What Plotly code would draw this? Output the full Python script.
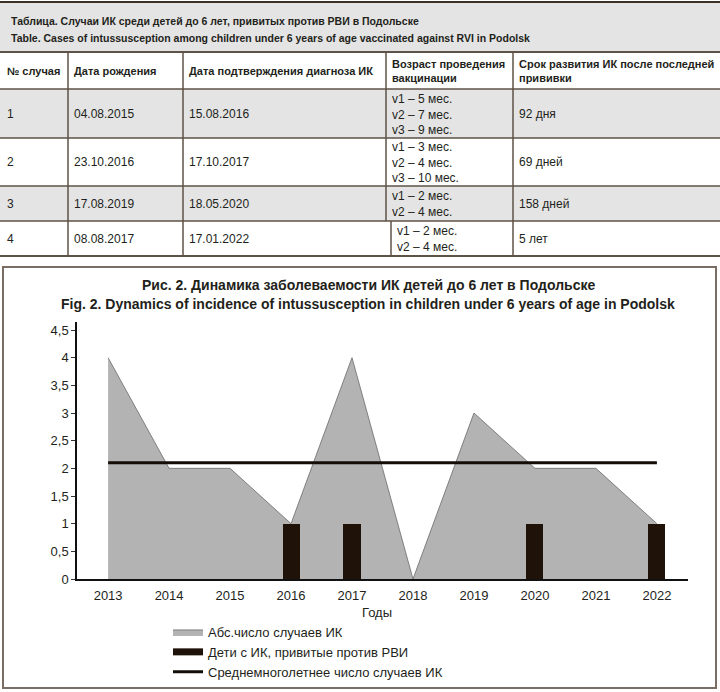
import plotly.graph_objects as go

# ---------------- data ----------------
table_title_ru = "Таблица. Случаи ИК среди детей до 6 лет, привитых против РВИ в Подольске"
table_title_en = "Table. Cases of intussusception among children under 6 years of age vaccinated against RVI in Podolsk"
col_headers = ["№ случая", "Дата рождения", "Дата подтверждения диагноза ИК",
               "Возраст проведения<br>вакцинации", "Срок развития ИК после последней<br>прививки"]
case_numbers = ["1", "2", "3", "4"]
birth_dates = ["04.08.2015", "23.10.2016", "17.08.2019", "08.08.2017"]
diagnosis_dates = ["15.08.2016", "17.10.2017", "18.05.2020", "17.01.2022"]
vaccination_ages = ["v1 – 5 мес.<br>v2 – 7 мес.<br>v3 – 9 мес.",
                    "v1 – 3 мес.<br>v2 – 4 мес.<br>v3 – 10 мес.",
                    "v1 – 2 мес.<br>v2 – 4 мес.",
                    "v1 – 2 мес.<br>v2 – 4 мес."]
onset_after_last = ["92 дня", "69 дней", "158 дней", "5 лет"]

chart_title_ru = "Рис. 2. Динамика заболеваемости ИК детей до 6 лет в Подольске"
chart_title_en = "Fig. 2. Dynamics of incidence of intussusception in children under 6 years of age in Podolsk"
years = [2013, 2014, 2015, 2016, 2017, 2018, 2019, 2020, 2021, 2022]
abs_cases = [4, 2, 2, 1, 4, 0, 3, 2, 2, 1]
vacc_years = [2016, 2017, 2020, 2022]
vacc_cases = [1, 1, 1, 1]
mean_years = [2013, 2022]
mean_cases = [2.1, 2.1]
y_ticks = [0, 0.5, 1, 1.5, 2, 2.5, 3, 3.5, 4, 4.5]
y_tick_labels = ["0", "0,5", "1", "1,5", "2", "2,5", "3", "3,5", "4", "4,5"]
x_title = "Годы"
legend_names = ["Абс.число случаев ИК", "Дети с ИК, привитые против РВИ", "Среднемноголетнее число случаев ИК"]

# ---------------- layout helpers ----------------
W, H = 720, 692
def px(x):
    return x / W
def py(y):
    return 1 - y / H

TXT = "#231f1a"
LINE = "#5e5246"
GREY_BG = "#e4e4e4"
SANS = "Liberation Sans, Arial, sans-serif"
BAR_COLOR = "#1f1208"

shapes = []
annotations = []

# title band
shapes.append(dict(type="rect", xref="paper", yref="paper", x0=px(0), x1=px(720), y0=py(3), y1=py(52),
                   fillcolor=GREY_BG, line=dict(width=0), layer="below"))
# grey rows
row_bounds = [52, 89, 138, 186, 221, 256]
for i in (1, 3):
    shapes.append(dict(type="rect", xref="paper", yref="paper", x0=px(0), x1=px(720),
                       y0=py(row_bounds[i]), y1=py(row_bounds[i + 1]),
                       fillcolor=GREY_BG, line=dict(width=0), layer="below"))
# horizontal lines
shapes.append(dict(type="line", xref="paper", yref="paper", x0=0, x1=1, y0=py(2), y1=py(2),
                   line=dict(color="#3a3028", width=2)))
for k, yb in enumerate(row_bounds):
    w = 2 if k in (0, len(row_bounds) - 1) else 1.5
    shapes.append(dict(type="line", xref="paper", yref="paper", x0=0, x1=1, y0=py(yb), y1=py(yb),
                       line=dict(color=LINE, width=w)))
# vertical lines
col_x = [68, 183, 386, 513]
for cx in col_x:
    if cx == 386:
        shapes.append(dict(type="line", xref="paper", yref="paper", x0=px(cx), x1=px(cx),
                           y0=py(52), y1=py(221), line=dict(color=LINE, width=1.5)))
        shapes.append(dict(type="line", xref="paper", yref="paper", x0=px(cx + 5), x1=px(cx + 5),
                           y0=py(221), y1=py(256), line=dict(color=LINE, width=1.5)))
    else:
        shapes.append(dict(type="line", xref="paper", yref="paper", x0=px(cx), x1=px(cx),
                           y0=py(52), y1=py(256), line=dict(color=LINE, width=1.5)))

def ann(x, y, text, size=12, bold=False, family=SANS, anchor="left"):
    if bold:
        text = "<b>" + text.replace("<br>", "</b><br><b>") + "</b>"
    annotations.append(dict(x=px(x), y=py(y), xref="paper", yref="paper", text=text,
                            showarrow=False, xanchor=anchor, yanchor="middle", align=anchor,
                            font=dict(size=size, color=TXT, family=family)))

ann(9, 21, table_title_ru, size=10.5, bold=True)
ann(9, 38, table_title_en, size=10.5, bold=True)

text_x = [5, 72, 187, 390, 517]
for j, h in enumerate(col_headers):
    ann(text_x[j], 71, h, size=11, bold=True)

row_centers = [114, 162, 204, 239]
for i in range(4):
    ann(text_x[0], row_centers[i], case_numbers[i])
    ann(text_x[1], row_centers[i], birth_dates[i])
    ann(text_x[2], row_centers[i], diagnosis_dates[i])
    ann(text_x[3] + (5 if i == 3 else 0), row_centers[i], vaccination_ages[i])
    ann(text_x[4], row_centers[i], onset_after_last[i])

# chart box
shapes.append(dict(type="rect", xref="paper", yref="paper", x0=px(3), x1=px(716), y0=py(267), y1=py(688),
                   line=dict(color="#7a6e64", width=2), fillcolor="rgba(0,0,0,0)"))
ann(368, 285, chart_title_ru, size=14, bold=True, anchor="center")
ann(368, 304, chart_title_en, size=14, bold=True, anchor="center")
ann(377, 612, x_title, size=13, anchor="center")

# ---------------- traces ----------------
fig = go.Figure()
fig.add_trace(go.Scatter(x=years, y=abs_cases, mode="lines", fill="tozeroy",
                         fillcolor="#b3b3b3", line=dict(color="#6a6a6a", width=0.8),
                         name=legend_names[0], hoverinfo="skip"))
fig.add_trace(go.Bar(x=vacc_years, y=vacc_cases, width=0.28, marker=dict(color=BAR_COLOR, line=dict(width=0)),
                     name=legend_names[1], xaxis="x2", yaxis="y2", hoverinfo="skip", showlegend=False))
# legend entry for the bars drawn as a wide dark rectangle, like the original
fig.add_trace(go.Scatter(x=[None], y=[None], mode="lines", line=dict(color=BAR_COLOR, width=7),
                         name=legend_names[1], xaxis="x2", yaxis="y2", hoverinfo="skip"))
fig.add_trace(go.Scatter(x=mean_years, y=mean_cases, mode="lines", line=dict(color="#140c06", width=3),
                         name=legend_names[2], xaxis="x2", yaxis="y2", hoverinfo="skip"))

x_range = [2012.49, 2022.51]
y_range = [0, 4.645]
x_dom = [px(77), px(688)]
y_dom = [py(579), py(322)]

fig.update_layout(
    width=W, height=H,
    margin=dict(l=0, r=0, t=0, b=0, autoexpand=False),
    paper_bgcolor="white", plot_bgcolor="rgba(0,0,0,0)",
    showlegend=True,
    legend=dict(x=px(168), y=py(617), xanchor="left", yanchor="top",
                font=dict(size=13, color=TXT, family=SANS), bgcolor="rgba(0,0,0,0)",
                itemwidth=30, tracegroupgap=0),
    xaxis=dict(domain=x_dom, range=x_range, tickmode="array", tickvals=years,
               ticktext=[str(y) for y in years], showgrid=False, zeroline=False,
               showline=True, linecolor="#111", linewidth=1.5, ticks="",
               ticklabelstandoff=4,
               tickfont=dict(size=13, color=TXT, family=SANS)),
    yaxis=dict(domain=y_dom, range=y_range, tickmode="array", tickvals=y_ticks, ticktext=y_tick_labels,
               showgrid=False, zeroline=False, showline=True, linecolor="#111", linewidth=1.5,
               ticks="outside", ticklen=4, tickcolor="#333", tickwidth=1,
               tickfont=dict(size=13, color=TXT, family=SANS)),
    xaxis2=dict(overlaying="x", range=x_range, visible=False, showgrid=False),
    yaxis2=dict(overlaying="y", range=y_range, visible=False, showgrid=False),
    shapes=shapes, annotations=annotations,
    bargap=0,
)

fig.write_html("out.html", config={"displayModeBar": False})
